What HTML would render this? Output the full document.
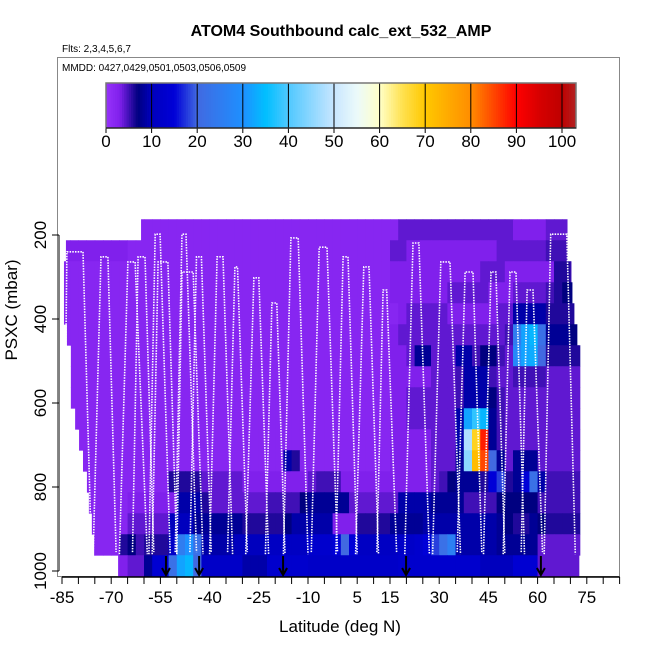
<!DOCTYPE html>
<html><head><meta charset="utf-8"><style>
body{margin:0;background:#fff}
svg{display:block;font-family:"Liberation Sans",Arial,sans-serif}
</style></head><body>
<svg id="chart" width="650" height="650" viewBox="0 0 650 650">
<rect x="0" y="0" width="650" height="650" fill="#fff"/>
<text x="341" y="36" text-anchor="middle" font-size="16" font-weight="bold">ATOM4 Southbound calc_ext_532_AMP</text>
<text x="62" y="52" font-size="10">Flts: 2,3,4,5,6,7</text>
<rect x="57.5" y="57.5" width="562" height="519" fill="none" stroke="#888" stroke-width="1"/>
<text x="62" y="71" font-size="10">MMDD: 0427,0429,0501,0503,0506,0509</text>
<g id="cbar"></g>
<g id="cells"></g>
<g id="tracks"></g>
<g id="arrows"></g>
<g id="axes"></g>
<text x="340" y="632" text-anchor="middle" font-size="17">Latitude (deg N)</text>
<text transform="translate(17,310) rotate(-90)" text-anchor="middle" font-size="17">PSXC (mbar)</text>
</svg>
<script>
const latEdges0 = -85, latStep = 2.5;
const pEdges0 = 162.5, pStep = 50;
const rowLatMin = [-60.9,-83.8,-84.4,-84.4,-84.4,-83.5,-82.3,-82.3,-82.3,-81.0,-79.8,-78.6,-77.4,-76.8,-75.9,-75.2,-67.9];
const rowLatMax = [69.0,69.0,70.2,70.5,71.1,72.0,72.9,72.9,72.9,72.9,72.9,72.9,72.9,72.9,72.9,72.9,72.6];
const values = [
[2,2,2,2,2,2,2,2, 2,2,2,2,2,2,2,2, 2,2,2,2,2,2,2,2, 2,2,2,2,2,2,2,2, 2,2,2,2,2,2,2,2, 2,4,4,4,4,4,4,4, 4,4,4,4,4,4,4,3, 3,3,3,4,4,4,4,4],
[3,3,3,3,3,3,3,3, 2,2,2,2,2,2,2,2, 2,2,2,2,2,2,2,2, 2,2,2,2,2,2,2,2, 2,2,2,2,2,2,2,2, 4,4,3,3,3,3,3,3, 3,3,3,3,3,4,4,4, 4,4,4,5,5,5,5,5],
[2,2,2,2,2,2,2,2, 2,2,2,2,2,2,2,2, 2,2,2,2,2,2,2,2, 2,2,2,2,2,2,2,2, 2,2,2,2,2,2,2,2, 3,3,3,3,3,3,3,3, 3,3,3,4,4,4,3,3, 3,3,3,3,6,6,5,5],
[2,2,2,2,2,2,2,2, 2,2,2,2,2,2,2,2, 2,2,2,2,2,2,2,2, 2,2,2,2,2,2,2,2, 2,2,2,2,2,2,2,2, 3,3,3,3,3,3,3,4, 4,4,4,4,3,3,3,4, 4,4,4,5,6,7,7,6],
[2,2,2,2,2,2,2,2, 2,2,2,2,2,2,2,2, 2,2,2,2,2,2,2,2, 2,2,2,2,2,2,2,2, 2,2,2,2,2,2,2,2, 2,3,4,4,4,4,4,3, 3,3,3,3,3,4,4,9, 9,9,9,6,6,6,6,6],
[2,2,2,2,2,2,2,2, 2,2,2,2,2,2,2,2, 2,2,2,2,2,2,2,2, 2,2,2,2,2,2,2,2, 2,2,2,2,2,2,2,2, 3,4,4,4,4,4,4,4, 4,4,4,4,4,4,5,25, 32,34,22,8,8,8,7,7],
[2,2,2,2,2,2,2,2, 2,2,2,2,2,2,2,2, 2,2,2,2,2,2,2,2, 2,2,2,2,2,2,2,2, 2,2,2,2,2,2,2,2, 3,3,4,8,8,4,4,4, 9,9,5,7,7,5,4,28, 32,33,20,6,6,6,6,6],
[2,2,2,2,2,2,2,2, 2,2,2,2,2,2,2,2, 2,2,2,2,2,2,2,2, 2,2,2,2,2,2,2,2, 2,2,2,2,2,2,2,2, 3,3,3,3,3,4,4,4, 5,9,9,9,5,4,4,5, 5,5,5,4,4,4,4,4],
[2,2,2,2,2,2,2,2, 2,2,2,2,2,2,2,2, 2,2,2,2,2,2,2,2, 2,2,2,2,2,2,2,2, 2,2,2,2,2,2,2,2, 3,3,4,4,4,4,4,4, 5,9,9,9,7,5,4,4, 4,4,4,4,4,4,4,4],
[2,2,2,2,2,2,2,2, 2,2,2,2,2,2,2,2, 2,2,2,2,2,2,2,2, 2,2,2,2,2,2,2,2, 2,2,2,2,2,2,2,2, 3,3,4,4,4,4,4,4, 9,32,38,34,8,5,4,4, 4,4,4,4,4,4,4,4],
[2,2,2,2,2,2,2,2, 2,2,2,2,2,2,2,2, 2,2,2,2,2,2,2,2, 2,2,2,2,2,2,2,2, 2,2,2,2,2,2,2,2, 3,3,3,3,3,4,4,4, 9,48,68,88,8,5,4,4, 4,4,4,4,4,4,4,4],
[2,2,2,2,2,2,2,2, 2,2,2,2,2,2,2,2, 2,2,2,2,2,2,2,2, 2,2,2,9,6,2,2,2, 2,2,2,2,2,2,2,2, 3,3,3,3,3,4,4,4, 8,45,72,85,20,8,4,8, 8,8,4,4,4,4,4,4],
[2,2,2,2,2,2,2,2, 2,2,2,2,2,6,6,6, 6,4,4,4,4,4,3,3, 3,3,3,3,3,3,4,5, 5,5,3,3,3,3,3,3, 3,3,3,3,3,4,5,7, 8,8,8,6,15,18,6,8, 15,22,9,5,5,5,5,5],
[2,2,2,2,2,2,2,2, 3,3,3,3,3,3,9,9, 9,6,4,4,4,4,4,4, 4,5,5,5,5,7,8,8, 8,8,8,4,4,4,4,4, 4,9,9,9,9,8,8,8, 8,5,5,5,5,7,7,7, 7,7,5,5,5,5,5,5],
[2,2,2,2,2,2,2,2, 4,4,4,4,4,10,10,10, 8,8,8,8,8,8,6,6, 6,6,6,7,9,9,9,9, 9,3,3,3,6,6,6,6, 8,8,8,8,9,9,9,9, 9,9,9,9,9,8,7,6, 6,8,7,6,6,6,6,6],
[2,2,2,2,2,2,2,6, 7,5,6,6,6,12,25,30, 22,9,9,9,9,10,10,10, 10,11,11,11,11,11,13,13, 13,15,20,15,11,11,11,11, 11,12,12,13,15,18,22,26, 9,9,9,9,9,8,8,8, 8,8,4,4,4,4,4,4],
[2,2,2,2,2,2,2,3, 4,4,8,14,14,22,32,34, 20,12,12,12,12,12,9,9, 9,13,13,13,13,13,12,12, 12,12,12,12,12,12,12,12, 12,13,13,13,13,13,13,13, 13,13,13,10,10,10,10,14, 14,14,4,4,4,4,4,4]
];
const colorbarTicks = [0,10,20,30,40,50,60,70,80,90,100];
const xTickLabels = [-85,-70,-55,-40,-25,-10,5,15,30,45,60,75];
const yTickLabels = [200,400,600,800,1000];
const peakStartLat = [-83.5,-73.1,-64.9,-61.8,-56.6,-55.7,-48.4,-48.4,-44.0,-37.7,-32.3,-26.5,-21.0,-15.2,-6.6,0.7,7.0,12.9,22.0,30.5,37.9,45.8,51.6,56.8,64.0];
const peakEndLat   = [-78.6,-71.0,-62.7,-59.7,-55.1,-52.7,-47.2,-45.0,-42.5,-35.9,-31.5,-25.0,-19.5,-13.0,-4.2,2.2,8.6,14.0,23.8,33.3,40.3,47.3,53.4,58.6,68.9];
const peakP        = [240,252,264,252,198,264,198,288,252,252,276,302,362,207,229,252,276,331,219,264,288,288,288,331,198];
const climbStartLat= [-84.5,-75.5,-67.5,-63.5,-58.5,-57.5,-50.5,-50.0,-46.0,-40.0,-34.5,-29.0,-23.0,-17.5,-9.0,-1.5,4.5,11.0,19.5,28.0,35.5,43.5,49.5,55.0,62.0];
const descentEndLat= [-76.0,-68.5,-59.0,-57.0,-52.0,-50.0,-44.0,-42.0,-39.5,-33.0,-28.5,-22.0,-17.0,-10.0,-1.0,5.0,11.5,17.0,27.0,36.5,43.0,50.0,56.0,61.5,71.5];
const bottomP      = [960,955,960,955,960,960,955,960,955,960,955,960,960,960,955,960,960,955,960,960,955,960,960,955,960];
const arrowLats = [-53.3,-43.2,-17.6,19.9,61.0];

const NS='http://www.w3.org/2000/svg';
function mk(tag, attrs, parent){const e=document.createElementNS(NS,tag);for(const k in attrs)e.setAttribute(k,attrs[k]);parent.appendChild(e);return e;}
const xScale = lat => 62 + (lat + 85) * 3.28;
const yScale = p => 235 + (p - 200) * 0.42;
const cbScale = v => 106 + v * 4.56;
const stops = [[0,[150,50,250]],[3,[128,32,236]],[7,[0,0,128]],[10,[0,0,190]],[15,[0,0,215]],[20,[65,105,225]],[30,[30,144,255]],[35,[0,191,255]],[40,[80,200,255]],[50,[200,230,255]],[55,[235,250,250]],[60,[255,255,200]],[65,[255,225,80]],[70,[255,200,0]],[80,[255,140,0]],[85,[255,70,0]],[90,[255,0,0]],[95,[215,0,0]],[100,[190,0,0]],[103,[178,34,34]]];
function color(v){
  if(v<=stops[0][0]) return 'rgb('+stops[0][1]+')';
  for(let i=1;i<stops.length;i++){ if(v<=stops[i][0]){const a=stops[i-1],b=stops[i],t=(v-a[0])/(b[0]-a[0]);
    return 'rgb('+a[1].map((c,j)=>Math.round(c+(b[1][j]-c)*t)).join(',')+')';}}
  return 'rgb('+stops[stops.length-1][1]+')';
}
// colorbar
const cb=document.getElementById('cbar');
for(let v=0; v<103; v+=0.5){
  const r=mk('rect',{x:cbScale(v),y:83,width:4.56*0.5+0.4,height:45,fill:color(v+0.25)},cb);
  
  
}
colorbarTicks.forEach(t=>{
  const l=mk('line',{x1:cbScale(t),x2:cbScale(t),y1:83,y2:133,stroke:'#000','stroke-width':1},cb);
  
  
  const tx=mk('text',{x:cbScale(t),y:147,'text-anchor':'middle','font-size':17},cb);
  tx.textContent=t;
  
  
});
mk('rect',{x:106,y:83,width:470,height:45,fill:'none',stroke:'#777','stroke-width':1.5},cb);
mk('line',{x1:106,x2:576,y1:128,y2:128,stroke:'#000','stroke-width':1},cb);
// heatmap
const cg=document.getElementById('cells');
values.forEach((row,ri)=>{
  const p0=pEdges0+ri*pStep, p1=p0+pStep;
  row.forEach((v,ci)=>{
    let l0=latEdges0+ci*latStep, l1=l0+latStep;
    l0=Math.max(l0,rowLatMin[ri]); l1=Math.min(l1,rowLatMax[ri]);
    if(l1<=l0) return;
    const r=mk('rect',{x:xScale(l0),y:yScale(p0),width:xScale(l1)-xScale(l0)+0.4,height:yScale(p1)-yScale(p0)+0.4,fill:color(v)},cg);
    
    
  });
});
// flight track
const tg=document.getElementById('tracks');
peakP.forEach((pp,i)=>{
  const pts=[[climbStartLat[i],bottomP[i]],[peakStartLat[i],pp],[peakEndLat[i],pp],[descentEndLat[i],bottomP[i]]];
  const pl=mk('polyline',{points:pts.map(q=>xScale(q[0]).toFixed(1)+','+yScale(q[1]).toFixed(1)).join(' '),fill:'none',stroke:'#fff','stroke-width':1.6,'stroke-dasharray':'1.5 1.2'},tg);
  
  
});
// arrows
const ag=document.getElementById('arrows');
arrowLats.forEach(lat=>{
  const x=xScale(lat);
  const a=mk('path',{d:`M${x},556 L${x},575 M${x-4},568 L${x},575 L${x+4},568`,stroke:'#000','stroke-width':2,fill:'none'},ag);
  
  
});
// axes
const ax=document.getElementById('axes');
mk('line',{x1:xScale(-85),x2:xScale(85),y1:577,y2:577,stroke:'#000','stroke-width':1.5},ax);
for(let lat=-85; lat<=85; lat+=5){
  const t=mk('line',{x1:xScale(lat),x2:xScale(lat),y1:577,y2:584,stroke:'#000','stroke-width':1},ax);
  
  
}
xTickLabels.forEach(lat=>{
  const tx=mk('text',{x:xScale(lat),y:603,'text-anchor':'middle','font-size':17},ax);
  tx.textContent=lat;
  
  
});
mk('line',{x1:59,x2:59,y1:yScale(200),y2:yScale(1000),stroke:'#000','stroke-width':1},ax);
yTickLabels.forEach(p=>{
  const t=mk('line',{x1:52,x2:59,y1:yScale(p),y2:yScale(p),stroke:'#000','stroke-width':1},ax);
  
  
  const tx=mk('text',{transform:`translate(46,${yScale(p)}) rotate(-90)`,'text-anchor':'middle','font-size':17},ax);
  tx.textContent=p;
  
  
});
</script>
</body></html>
